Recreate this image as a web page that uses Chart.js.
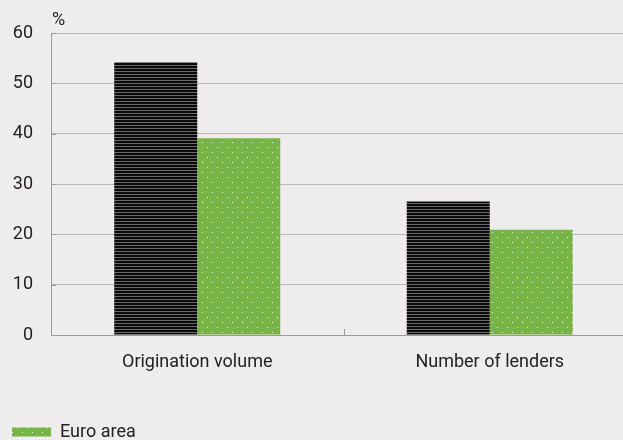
<!DOCTYPE html>
<html>
<head>
<meta charset="utf-8">
<script src="https://cdn.jsdelivr.net/npm/chart.js@4/dist/chart.umd.min.js"></script>
<style>
  html, body { margin: 0; padding: 0; background: #EEECED; overflow: hidden; }
  #wrap { position: relative; width: 636px; height: 451px; }
</style>
</head>
<body>
<div id="wrap"><canvas id="c"></canvas></div>
<script>
// Categories, series and axis ticks
const categories = ['Origination volume', 'Number of lenders'];
const seriesNames = ['Comparison group', 'Euro area'];
const comparisonValues = [54.2, 26.5];
const euroAreaValues = [39.1, 20.9];
const yTicks = [0, 10, 20, 30, 40, 50, 60];
const unitLabel = '%';

// Fill patterns: black with grey horizontal stripes, green with white dots
function stripePattern() {
  const p = document.createElement('canvas');
  p.width = 4; p.height = 3;
  const g = p.getContext('2d');
  g.fillStyle = '#0a0a0a'; g.fillRect(0, 0, 4, 3);
  g.fillStyle = '#6a6a6a'; g.fillRect(0, 2, 4, 1);
  return g.createPattern(p, 'repeat');
}
function dotPattern() {
  const p = document.createElement('canvas');
  p.width = 10; p.height = 10;
  const g = p.getContext('2d');
  g.fillStyle = '#76B546'; g.fillRect(0, 0, 10, 10);
  g.fillStyle = '#ffffff';
  g.fillRect(2, 2, 1, 1);
  g.fillRect(7, 7, 1, 1);
  return g.createPattern(p, 'repeat');
}

const FONT = 'Roboto, "Liberation Sans", sans-serif';

// Inward tick marks on both axes plus the unit label above the value axis
const axisDecor = {
  id: 'axisDecor',
  afterDraw(chart) {
    const { ctx, chartArea: a, scales: { x, y } } = chart;
    ctx.save();
    ctx.strokeStyle = '#9a9a9a';
    ctx.lineWidth = 1;
    ctx.beginPath();
    yTicks.forEach(v => {
      const py = Math.round(y.getPixelForValue(v)) + 0.5;
      ctx.moveTo(a.left, py); ctx.lineTo(a.left + 5, py);
    });
    for (let i = 1; i < categories.length; i++) {
      const px = Math.round((x.getPixelForValue(i - 1) + x.getPixelForValue(i)) / 2) + 0.5;
      ctx.moveTo(px, a.bottom); ctx.lineTo(px, a.bottom - 6);
    }
    ctx.stroke();
    ctx.fillStyle = '#222';
    ctx.font = '18px ' + FONT;
    ctx.textAlign = 'left';
    ctx.textBaseline = 'alphabetic';
    ctx.fillText(unitLabel, a.left + 1, a.top - 8);
    ctx.restore();
  }
};

new Chart(document.getElementById('c'), {
  type: 'bar',
  data: {
    labels: categories,
    datasets: [
      { label: seriesNames[0], data: comparisonValues, backgroundColor: stripePattern(), borderWidth: 0 },
      { label: seriesNames[1], data: euroAreaValues, backgroundColor: dotPattern(), borderWidth: 0 }
    ]
  },
  options: {
    responsive: true,
    maintainAspectRatio: false,
    animation: false,
    devicePixelRatio: 1,
    layout: { padding: { top: 33, left: 0, right: 0, bottom: 0 } },
    datasets: { bar: { categoryPercentage: 0.5675, barPercentage: 1.0 } },
    scales: {
      x: {
        offset: true,
        grid: { display: false, drawTicks: false },
        border: { color: '#9a9a9a', width: 1 },
        ticks: { color: '#222', font: { family: FONT, size: 18 }, padding: 17 },
        afterFit(s) { s.height = 76; }
      },
      y: {
        min: 0, max: 60,
        afterBuildTicks(s) { s.ticks = yTicks.map(v => ({ value: v })); },
        grid: { color: '#b8b8b8', drawTicks: false },
        border: { color: '#9a9a9a', width: 1 },
        ticks: { color: '#222', font: { family: FONT, size: 18 }, padding: 18 },
        afterFit(s) { s.width = 51; }
      }
    },
    plugins: {
      legend: {
        position: 'bottom',
        align: 'start',
        labels: {
          filter: item => item.text === seriesNames[1],
          boxWidth: 39, boxHeight: 9,
          color: '#222',
          font: { family: FONT, size: 18 },
          padding: 12
        }
      },
      tooltip: { enabled: false }
    }
  },
  plugins: [axisDecor]
});
</script>
</body>
</html>
